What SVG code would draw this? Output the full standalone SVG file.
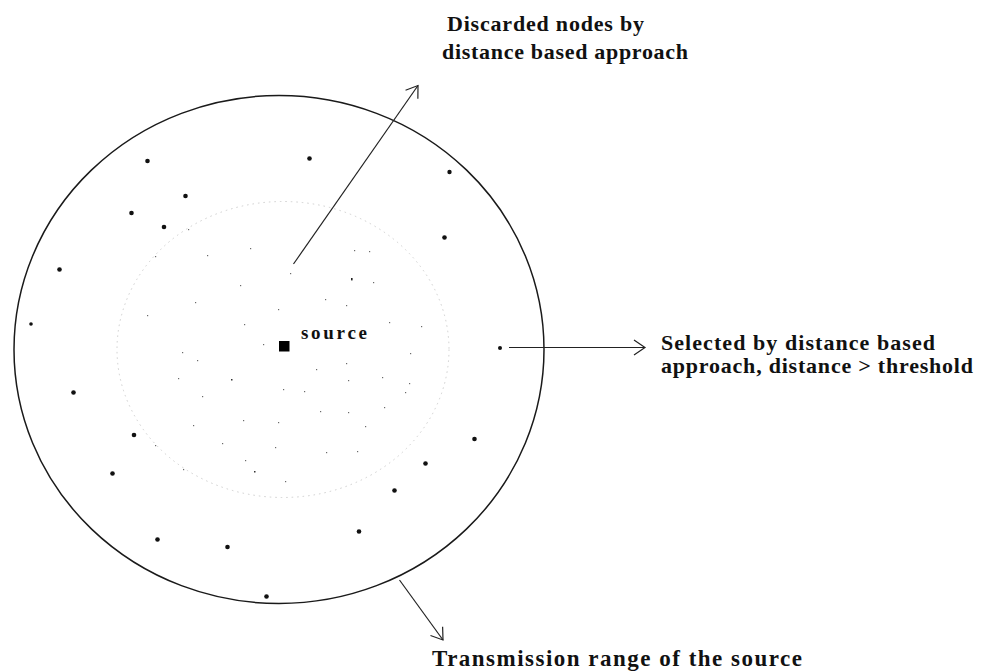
<svg xmlns="http://www.w3.org/2000/svg" width="983" height="671" viewBox="0 0 983 671">
  <style>
    .label { font-family: "Liberation Serif", "Times New Roman", serif; font-weight: bold; fill: #111; }
    .node { fill: #111; }
    .faint { fill: #6a6a6a; }
    .conn { stroke: #222; stroke-width: 1.2; fill: none; marker-end: url(#open); }
  </style>
  <defs>
    <marker id="open" viewBox="-14 -9 16 18" refX="0" refY="0" markerWidth="16" markerHeight="18" markerUnits="userSpaceOnUse" orient="auto">
      <path d="M -11 -7.5 L 0 0 L -11 7.5" fill="none" stroke="#222" stroke-width="1.2"/>
    </marker>
  </defs>
  <rect width="983" height="671" fill="#ffffff"/>

  <!-- transmission range of the source -->
  <g id="range">
    <ellipse cx="279" cy="349.5" rx="265" ry="254" fill="none" stroke="#1a1a1a" stroke-width="1.5"/>
  </g>

  <!-- distance threshold -->
  <g id="threshold">
    <ellipse cx="283" cy="349.5" rx="166" ry="148" fill="none" stroke="#cfcfcf" stroke-width="1" stroke-dasharray="1.5 4"/>
  </g>

  <!-- nodes close to the source (discarded) -->
  <g id="inner-nodes" class="faint">
    <rect x="351" y="278" width="1.6" height="2.4" fill="#222"/>
    <rect x="290" y="273" width="1.2" height="1.2"/>
    <rect x="354" y="250" width="1.2" height="1.2"/>
    <rect x="369" y="251" width="1.2" height="1.2"/>
    <rect x="250" y="248" width="1.2" height="1.2"/>
    <rect x="207" y="255" width="1.2" height="1.2"/>
    <rect x="155" y="256" width="1.2" height="1.2"/>
    <rect x="188" y="229" width="1.2" height="1.2"/>
    <rect x="373" y="282" width="1.2" height="1.2"/>
    <rect x="240" y="285" width="1.2" height="1.2"/>
    <rect x="325" y="299" width="1.2" height="1.2"/>
    <rect x="346" y="305" width="1.2" height="1.2"/>
    <rect x="278" y="309" width="1.2" height="1.2"/>
    <rect x="195" y="302" width="1.2" height="1.2"/>
    <rect x="389" y="322" width="1.2" height="1.2"/>
    <rect x="421" y="326" width="1.2" height="1.2"/>
    <rect x="244" y="324" width="1.2" height="1.2"/>
    <rect x="147" y="315" width="1.2" height="1.2"/>
    <rect x="182" y="352" width="1.2" height="1.2"/>
    <rect x="263" y="344" width="1.2" height="1.2"/>
    <rect x="346" y="363" width="1.2" height="1.2"/>
    <rect x="316" y="369" width="1.2" height="1.2"/>
    <rect x="410" y="353" width="1.2" height="1.2"/>
    <rect x="409" y="383" width="1.2" height="1.2"/>
    <rect x="382" y="377" width="1.2" height="1.2"/>
    <rect x="348" y="380" width="1.2" height="1.2"/>
    <rect x="231" y="379" width="1.5" height="1.5" fill="#333"/>
    <rect x="197" y="360" width="1.2" height="1.2"/>
    <rect x="178" y="378" width="1.2" height="1.2"/>
    <rect x="283" y="389" width="1.2" height="1.2"/>
    <rect x="304" y="391" width="1.2" height="1.2"/>
    <rect x="202" y="396" width="1.2" height="1.2"/>
    <rect x="320" y="411" width="1.2" height="1.2"/>
    <rect x="348" y="412" width="1.2" height="1.2"/>
    <rect x="384" y="407" width="1.2" height="1.2"/>
    <rect x="278" y="422" width="1.2" height="1.2"/>
    <rect x="243" y="420" width="1.2" height="1.2"/>
    <rect x="193" y="425" width="1.2" height="1.2"/>
    <rect x="365" y="426" width="1.2" height="1.2"/>
    <rect x="222" y="443" width="1.2" height="1.2"/>
    <rect x="155" y="445" width="1.2" height="1.2"/>
    <rect x="275" y="447" width="1.2" height="1.2"/>
    <rect x="326" y="452" width="1.2" height="1.2"/>
    <rect x="357" y="451" width="1.2" height="1.2"/>
    <rect x="245" y="460" width="1.2" height="1.2"/>
    <rect x="254" y="471" width="1.5" height="1.5" fill="#333"/>
    <rect x="285" y="481" width="1.2" height="1.2"/>
    <rect x="183" y="469" width="1.2" height="1.2"/>
    <rect x="405" y="392" width="1.2" height="1.2"/>
  </g>

  <!-- nodes beyond the threshold -->
  <g id="outer-nodes" class="node">
    <circle cx="147.5" cy="161" r="2.3"/>
    <circle cx="309.5" cy="158.5" r="2.3"/>
    <circle cx="449.5" cy="172" r="2.2"/>
    <circle cx="185.5" cy="196" r="2.3"/>
    <circle cx="131.5" cy="213" r="2.3"/>
    <circle cx="164" cy="227" r="2.3"/>
    <circle cx="444.5" cy="237.5" r="2.3"/>
    <circle cx="59.5" cy="269.5" r="2.3"/>
    <circle cx="31" cy="324" r="1.8"/>
    <circle cx="500" cy="348" r="2"/>
    <circle cx="73.5" cy="392.5" r="2.3"/>
    <circle cx="134" cy="435" r="2.3"/>
    <circle cx="474.5" cy="439" r="2.3"/>
    <circle cx="425.5" cy="463.5" r="2.3"/>
    <circle cx="112.5" cy="473.5" r="2.3"/>
    <circle cx="394.5" cy="490.5" r="2.3"/>
    <circle cx="359" cy="531.5" r="2.3"/>
    <circle cx="157.5" cy="539.5" r="2.3"/>
    <circle cx="227.5" cy="547" r="2.3"/>
    <circle cx="266.5" cy="596.5" r="2.3"/>
  </g>

  <!-- source node -->
  <g id="source">
    <rect x="279" y="341" width="10.5" height="10.5" fill="#000"/>
    <text class="label" x="301" y="339" font-size="19" textLength="66" lengthAdjust="spacing">source</text>
  </g>

  <!-- pointers from the figure to the notes -->
  <g id="connectors">
    <line class="conn" x1="293.5" y1="264" x2="418" y2="85.5"/>
    <line class="conn" x1="509" y1="347.5" x2="645" y2="347.5"/>
    <line class="conn" x1="399.5" y1="580" x2="443" y2="640"/>
  </g>

  <g id="note-discarded">
    <text class="label" x="447" y="31" font-size="22" textLength="197" lengthAdjust="spacing">Discarded nodes by</text>
    <text class="label" x="442" y="59" font-size="22" textLength="246" lengthAdjust="spacing">distance based approach</text>
  </g>

  <g id="note-selected">
    <text class="label" x="661" y="350" font-size="22" textLength="274" lengthAdjust="spacing">Selected by distance based</text>
    <text class="label" x="661" y="373" font-size="22" textLength="312" lengthAdjust="spacing">approach, distance &gt; threshold</text>
  </g>

  <g id="note-range">
    <text class="label" x="432" y="666" font-size="23" textLength="370" lengthAdjust="spacing">Transmission range of the source</text>
  </g>
</svg>
